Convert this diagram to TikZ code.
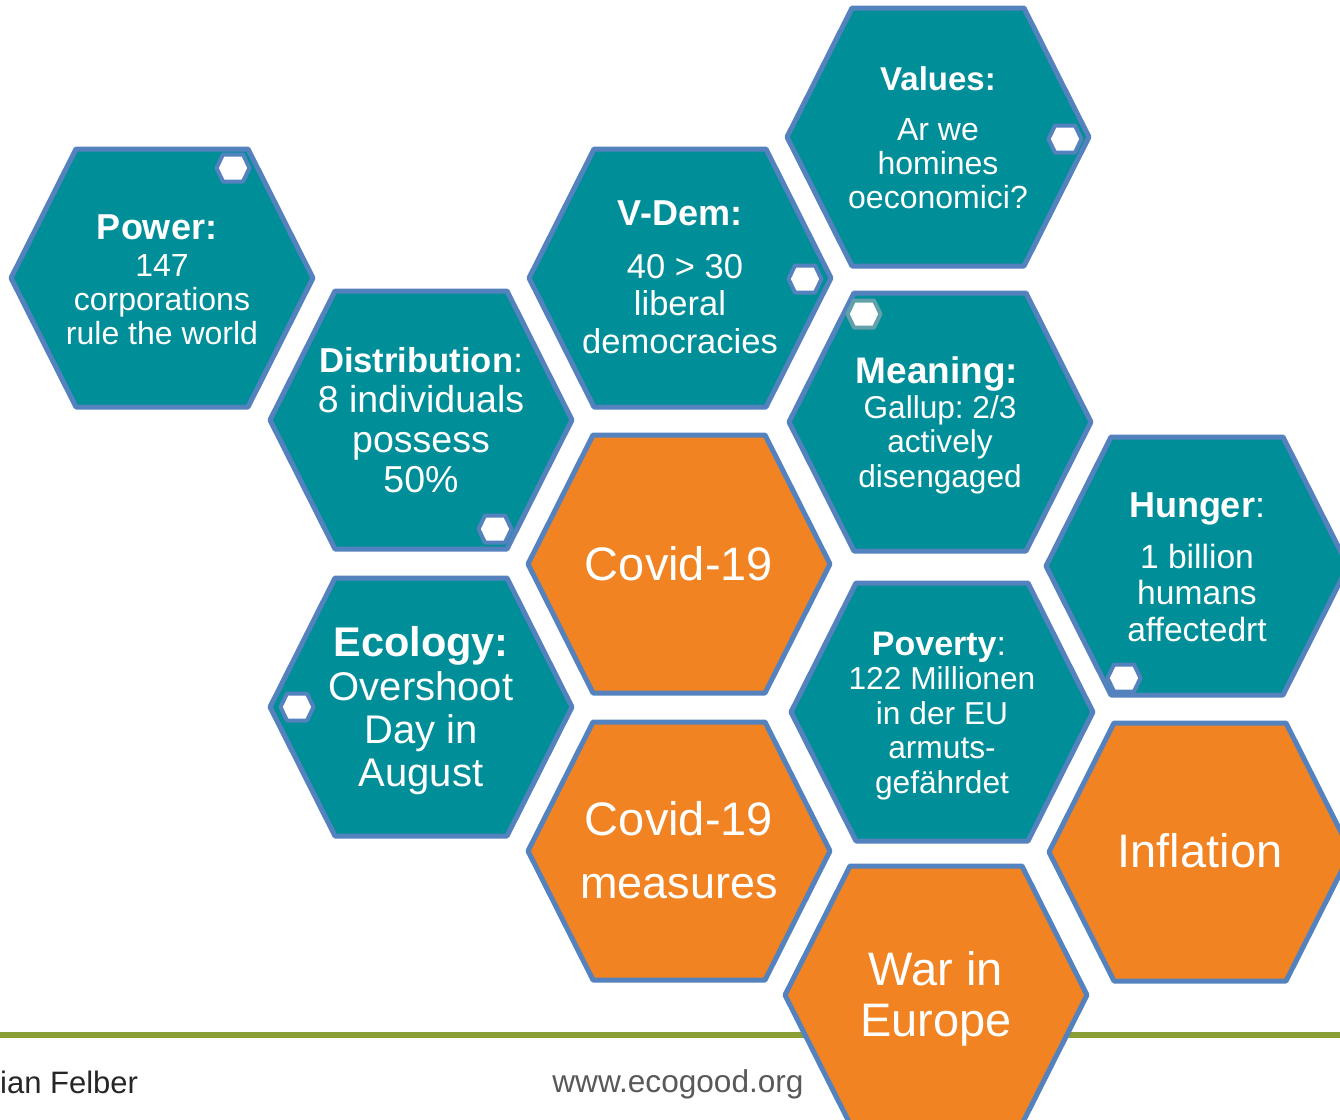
\documentclass[tikz,border=0pt]{standalone}
\usepackage{fontspec}
\setmainfont{Liberation Sans}
\usepackage{tikz}
\frenchspacing

\definecolor{ecoteal}{RGB}{0,142,152}
\definecolor{ecoorange}{RGB}{242,131,34}
\definecolor{hexblue}{RGB}{84,130,190}
\definecolor{knobgrey}{RGB}{98,160,170}
\definecolor{ecogreen}{RGB}{137,158,52}
\definecolor{footgrey}{RGB}{89,89,89}
\definecolor{footdark}{RGB}{38,38,38}

\newcommand{\fsz}[2]{\fontsize{#1}{#2}\selectfont}
% hexagon mare: stil, centru x, centru y
\newcommand{\honeycell}[3]{\draw[#1] ({#2-151},#3) -- ({#2-86},{#3-129}) -- ({#2+86},{#3-129}) -- ({#2+151},#3) -- ({#2+86},{#3+129}) -- ({#2-86},{#3+129}) -- cycle;}
% hexagon mic
\newcommand{\knob}[3][hexblue]{\draw[knobcell,draw=#1] ({#2-16.5},#3) -- ({#2-10},{#3-13.5}) -- ({#2+10},{#3-13.5}) -- ({#2+16.5},#3) -- ({#2+10},{#3+13.5}) -- ({#2-10},{#3+13.5}) -- cycle;}

\tikzset{
  tealcell/.style={fill=ecoteal,draw=hexblue,line width=5pt,line join=round},
  orangecell/.style={fill=ecoorange,draw=hexblue,line width=5pt,line join=round},
  knobcell/.style={fill=white,line width=4pt,line join=round},
  celltext/.style={text=white,align=center,inner sep=0pt,anchor=base},
  foottext/.style={inner sep=0pt,anchor=base}
}

\begin{document}
\begin{tikzpicture}[x=1pt,y=-1pt]
  \useasboundingbox (0,0) rectangle (1340,1119);
  \clip (0,0) rectangle (1340,1119);

  % fagure
  \honeycell{tealcell}{162}{278}
  \honeycell{tealcell}{938}{137}
  \honeycell{tealcell}{680}{278}
  \honeycell{tealcell}{421}{420}
  \honeycell{tealcell}{940}{422}
  \honeycell{orangecell}{679}{564}
  \honeycell{tealcell}{1197}{566}
  \honeycell{tealcell}{421}{707}
  \honeycell{tealcell}{942}{712}
  \honeycell{orangecell}{679}{851}
  \honeycell{orangecell}{1200}{852}

  % linia de jos
  \draw[ecogreen,line width=6pt] (0,1035) -- (1340,1035);
  \honeycell{orangecell}{936}{995}

  % hexagoane mici
  \knob{233}{168}
  \knob{1065}{139}
  \knob{805}{279}
  \knob{495}{529}
  \knob[knobgrey]{864}{314}
  \knob{297}{707}
  \knob{1124}{678}

  % texte (ancorate la ultima linie)
  \node[celltext,font=\fsz{32}{34}] (power) at (162,344)
    {{\fsz{36}{36}\bfseries Power:\hspace*{10pt}}\\[3pt]147\\corporations\\rule the world};
  \node[celltext,font=\fsz{32}{34}] (values) at (938,208)
    {{\fsz{33}{33}\bfseries Values:}\\[16pt]Ar we\\homines\\oeconomici?};
  \node[celltext,font=\fsz{34.5}{37.5}] (vdem) at (680,353)
    {{\fsz{36}{36}\bfseries V-Dem:}\\[15.5pt]\hspace*{10pt}40 > 30\\liberal\\democracies};
  \node[celltext,font=\fsz{37.5}{40}] (distribution) at (421,492)
    {{\fsz{34.6}{34.6}\textbf{Distribution}:}\\8 individuals\\possess\\50\%};
  \node[celltext,font=\fsz{31.6}{34.5}] (meaning) at (940,487)
    {{\fsz{37}{37}\bfseries Meaning:\hspace*{6pt}}\\Gallup: 2/3\\actively\\disengaged};
  \node[celltext,font=\fsz{47}{47}] (covid) at (679,580) {Covid-19};
  \node[celltext,font=\fsz{33.6}{36.5}] (hunger) at (1197,641)
    {{\fsz{36}{36}\textbf{Hunger}:}\\[14.5pt]1 billion\\humans\\affectedrt};
  \node[celltext,font=\fsz{40}{43}] (ecology) at (421,786)
    {{\fsz{41.5}{41.5}\bfseries Ecology:}\\[1pt]Overshoot\\Day in\\August};
  \node[celltext,font=\fsz{31.7}{34.5}] (poverty) at (942,793)
    {{\fsz{34}{34}\textbf{Poverty}:\hspace*{6pt}}\\122 Millionen\\in der EU\\armuts-\\gefährdet};
  \node[celltext,font=\fsz{47}{63}] (measures) at (679,898) {Covid-19\\{\fsz{45}{63}measures}};
  \node[celltext,font=\fsz{47}{47}] (inflation) at (1200,867) {Inflation};
  \node[celltext,font=\fsz{47}{51}] (war) at (936,1036) {War in\\Europe};

  % subsol
  \node[foottext,anchor=base west,text=footdark,font=\fsz{31}{31}] (author) at (0,1093) {ian Felber};
  \node[foottext,text=footgrey,font=\fsz{31.6}{31.6}] (website) at (678,1092) {www.ecogood.org};
\end{tikzpicture}
\end{document}
